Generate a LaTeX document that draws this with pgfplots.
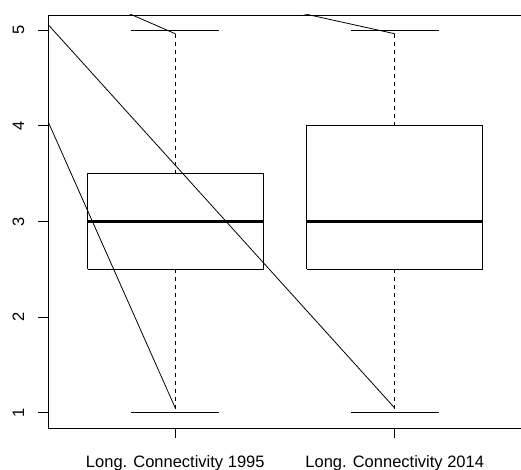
\documentclass[border=0pt]{standalone}
\usepackage{pgfplots}
\pgfplotsset{compat=1.18}
\usepackage{fontspec}
\setmainfont{Liberation Sans}

\begin{document}
\begin{tikzpicture}
\path[use as bounding box] (0,0) rectangle (521bp,470bp);
\begin{axis}[
    at={(48bp,42bp)}, anchor=south west,
    width=474bp, height=413bp, scale only axis,
    xmin=0.42, xmax=2.58,
    ymin=0.84, ymax=5.16,
    axis line style={line width=0.9bp},
    tick style={line width=0.9bp, black},
    tick align=outside,
    major tick length=10bp,
    xtick pos=bottom, ytick pos=left,
    xtick={1,2},
    xticklabels={Long. Connectivity 1995, Long. Connectivity 2014},
    ytick={1,2,3,4,5},
    /pgf/number format/assume math mode=true,
    ticklabel style={font=\fontsize{16.5bp}{19bp}\selectfont},
    xticklabel style={anchor=base},
    xticklabel shift=29bp,
    yticklabel style={rotate=90, anchor=base},
    yticklabel shift=14bp,
  ]
  % boxes (Q1 to Q3)
  \addplot[black, line width=0.9bp] coordinates {(0.6,2.5) (1.4,2.5) (1.4,3.5) (0.6,3.5) (0.6,2.5)};
  \addplot[black, line width=0.9bp] coordinates {(1.6,2.5) (2.4,2.5) (2.4,4.0) (1.6,4.0) (1.6,2.5)};
  % medians
  \addplot[black, line width=2.6bp] coordinates {(0.6,3) (1.4,3)};
  \addplot[black, line width=2.6bp] coordinates {(1.6,3) (2.4,3)};
  % whiskers
  \addplot[black, line width=0.9bp, dash pattern=on 4bp off 4bp] coordinates {(1,3.5) (1,5)};
  \addplot[black, line width=0.9bp, dash pattern=on 4bp off 4bp] coordinates {(1,2.5) (1,1)};
  \addplot[black, line width=0.9bp, dash pattern=on 4bp off 4bp] coordinates {(2,4.0) (2,5)};
  \addplot[black, line width=0.9bp, dash pattern=on 4bp off 4bp] coordinates {(2,2.5) (2,1)};
  % staples
  \addplot[black, line width=0.9bp] coordinates {(0.8,5) (1.2,5)};
  \addplot[black, line width=0.9bp] coordinates {(0.8,1) (1.2,1)};
  \addplot[black, line width=0.9bp] coordinates {(1.8,5) (2.2,5)};
  \addplot[black, line width=0.9bp] coordinates {(1.8,1) (2.2,1)};
  % stray lines drawn over the plot
  \addplot[black, line width=0.8bp] coordinates {(0.30,4.667) (1.0,1.049)};
  \addplot[black, line width=0.8bp] coordinates {(0.30,5.366) (2.0,1.049)};
  \addplot[black, line width=0.8bp] coordinates {(0.70,5.264) (1.0,4.964)};
  \addplot[black, line width=0.8bp] coordinates {(1.50,5.217) (2.0,4.964)};
\end{axis}
\end{tikzpicture}
\end{document}
